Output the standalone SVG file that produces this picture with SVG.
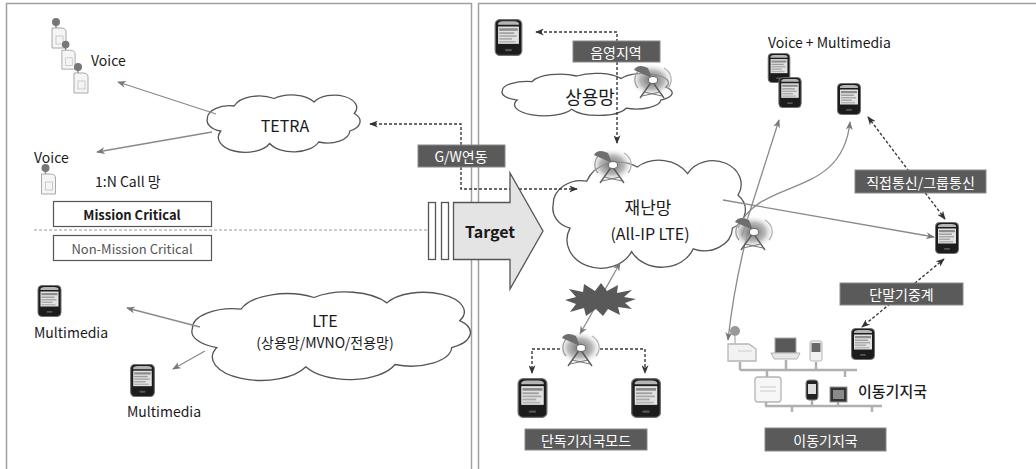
<svg xmlns="http://www.w3.org/2000/svg" width="1036" height="469" viewBox="0 0 1036 469">
  <style>
    .t { font-family: "Noto Sans CJK KR", "Noto Sans", sans-serif; fill: #1a1a1a; font-weight: 400; }
    .lbl { font-family: "Noto Sans CJK KR", "Noto Sans", sans-serif; fill: #ffffff; font-size: 14px; font-weight: 400; text-anchor: middle; dominant-baseline: central; }
    .tagbox { fill: #5a5a5a; stroke: #8a8a8a; stroke-width: 1; }
    .panel { fill: #ffffff; stroke: #a0a0a0; stroke-width: 1.5; }
    .cloud { fill: #ffffff; stroke: #555555; stroke-width: 1.3; vector-effect: non-scaling-stroke; }
    .ln { stroke: #8a8a8a; stroke-width: 1.3; fill: none; }
    .dl { stroke: #3a3a3a; stroke-width: 1.4; stroke-dasharray: 3 2; fill: none; }
    .bus { stroke: #b0b0b0; stroke-width: 2.5; fill: none; }
  </style>
  <defs>
    <marker id="ah" viewBox="0 0 10 8" refX="9" refY="4" markerWidth="9" markerHeight="7" markerUnits="userSpaceOnUse" orient="auto-start-reverse">
      <path d="M0,0 L10,4 L0,8 L3,4 z" fill="#777777"/>
    </marker>
    <marker id="ahd" viewBox="0 0 10 8" refX="9" refY="4" markerWidth="9" markerHeight="7" markerUnits="userSpaceOnUse" orient="auto-start-reverse">
      <path d="M0,0 L10,4 L0,8 L3,4 z" fill="#333333"/>
    </marker>
    <radialGradient id="wave" cx="0.5" cy="0.5" r="0.5">
      <stop offset="0" stop-color="#6a6a6a"/>
      <stop offset="0.55" stop-color="#a8a8a8" stop-opacity="0.8"/>
      <stop offset="1" stop-color="#ffffff" stop-opacity="0"/>
    </radialGradient>
    <path id="cloudShape" class="cloud" d="M -70,20 A 22 22 0 0 1 -85 -5 A 25 25 0 0 1 -55 -30 A 30 30 0 0 1 -10 -45 A 30 30 0 0 1 35 -38 A 25 25 0 0 1 80 -15 A 22 22 0 0 1 75 20 A 25 25 0 0 1 40 42 A 30 30 0 0 1 -15 45 A 25 25 0 0 1 -70 20 Z"/>
    <!-- smartphone -->
    <symbol id="phone" viewBox="0 0 24 32">
      <rect x="0.5" y="0.5" width="23" height="31" rx="4" fill="#1c1c1c" stroke="#707070"/>
      <path d="M3,5 L21,5 L21,3.5 Q20,2 17,2 L7,2 Q4,2 3,3.5 Z" fill="#b5b5b5"/>
      <rect x="3" y="6.5" width="18" height="15" fill="#e2e2e2"/>
      <rect x="4" y="8" width="16" height="2.2" fill="#8c8c8c"/>
      <rect x="4" y="11.5" width="13" height="1.4" fill="#9c9c9c"/>
      <rect x="4" y="14" width="15" height="1.4" fill="#a8a8a8"/>
      <rect x="4" y="16.5" width="11" height="1.4" fill="#a8a8a8"/>
      <rect x="4" y="19" width="14" height="1.4" fill="#b5b5b5"/>
      <rect x="9" y="26" width="6" height="1.8" rx="0.9" fill="#555555"/>
    </symbol>
    <!-- TETRA handset -->
    <symbol id="handset" viewBox="0 0 18 32">
      <line x1="6" y1="6" x2="6" y2="12" stroke="#888" stroke-width="1.5"/>
      <circle cx="6" cy="5" r="4" fill="#777777"/>
      <path d="M2,11 H11 Q16,11 16,15 V31 H2 Z" fill="#f5f5f5" stroke="#a8a8a8" stroke-width="1"/>
      <rect x="6" y="19" width="7" height="8" fill="none" stroke="#c0c0c0" stroke-width="0.8"/>
    </symbol>
    <!-- base station tower -->
    <symbol id="tower" viewBox="0 0 46 38">
      <ellipse cx="24" cy="18" rx="22" ry="17" fill="url(#wave)"/>
      <path d="M10,26 A16 14 0 0 1 14,6" fill="none" stroke="#9a9a9a" stroke-width="1.2"/>
      <path d="M36,6 A16 14 0 0 1 40,26" fill="none" stroke="#b0b0b0" stroke-width="1.2"/>
      <path d="M6,8 Q10,1 20,6 L24,16 Z" fill="#6e6e6e"/>
      <line x1="24" y1="19" x2="12" y2="36" stroke="#5a5a5a" stroke-width="1.4"/>
      <line x1="24" y1="19" x2="36" y2="36" stroke="#5a5a5a" stroke-width="1.4"/>
      <line x1="16" y1="30" x2="34" y2="34" stroke="#777" stroke-width="1"/>
      <line x1="32" y1="30" x2="14" y2="34" stroke="#777" stroke-width="1"/>
      <ellipse cx="25" cy="18" rx="4.5" ry="3.5" fill="#ffffff" stroke="#6a6a6a" stroke-width="1"/>
    </symbol>
  </defs>

  <rect width="1036" height="469" fill="#ffffff"/>

  <!-- panels -->
  <rect class="panel" x="6.5" y="3.5" width="465" height="480"/>
  <rect class="panel" x="478.5" y="3.5" width="570" height="480"/>

  <!-- clouds -->
  <g id="cloud-tetra">
    <use href="#cloudShape" transform="translate(283.5,123.5) scale(0.89,0.5) translate(-0.5,-5)"/>
    <text class="t" x="285" y="125" font-size="16" text-anchor="middle" dominant-baseline="central">TETRA</text>
  </g>
  <g id="cloud-lte">
    <use href="#cloudShape" transform="translate(331,336) scale(1.62,0.77) translate(-0.5,-5)"/>
    <text class="t" x="325" y="320" font-size="16" text-anchor="middle" dominant-baseline="central">LTE</text>
    <text class="t" x="325" y="342" font-size="14" text-anchor="middle" dominant-baseline="central">(상용망/MVNO/전용망)</text>
  </g>
  <g id="cloud-commercial">
    <use href="#cloudShape" transform="translate(587,94.5) scale(0.99,0.37) translate(-0.5,-5)"/>
    <text class="t" x="590" y="96" font-size="18" text-anchor="middle" dominant-baseline="central">상용망</text>
  </g>
  <g id="cloud-disaster">
    <use href="#cloudShape" transform="translate(649,214) scale(1.12,0.94) translate(-0.5,-5)"/>
    <text class="t" x="648" y="206" font-size="17" text-anchor="middle" dominant-baseline="central">재난망</text>
    <text class="t" x="650" y="233" font-size="16" text-anchor="middle" dominant-baseline="central">(All-IP LTE)</text>
  </g>

  <!-- connectors -->
  <g id="connectors">
    <line class="ln" x1="216" y1="114" x2="118" y2="82" marker-end="url(#ah)"/>
    <line class="ln" x1="212" y1="132" x2="97" y2="152" marker-end="url(#ah)"/>
    <line class="ln" x1="200" y1="327" x2="127" y2="308" marker-end="url(#ah)"/>
    <line class="ln" x1="205" y1="351" x2="173" y2="369" marker-end="url(#ah)"/>
    <line x1="34" y1="230" x2="428" y2="230" stroke="#9a9a9a" stroke-width="1.2" stroke-dasharray="3 2"/>
    <path class="dl" d="M577,189 H461 V124 H370" marker-start="url(#ahd)" marker-end="url(#ahd)"/>
    <path class="dl" d="M617,62 V32 H536" marker-end="url(#ahd)"/>
    <path class="dl" d="M617,62 V143" marker-end="url(#ahd)"/>
    <line class="ln" x1="742" y1="236" x2="779" y2="120" marker-end="url(#ah)"/>
    <path class="ln" d="M738,228 C760,176 842,200 850,122" marker-end="url(#ah)"/>
    <line class="ln" x1="723" y1="200" x2="934" y2="237" marker-end="url(#ah)"/>
    <path class="ln" d="M748,232 Q734,285 728,340" marker-end="url(#ah)"/>
    <line class="ln" x1="620" y1="263" x2="580" y2="334" marker-start="url(#ah)" marker-end="url(#ah)"/>
    <path class="dl" d="M560,349 H532 V373" marker-end="url(#ahd)"/>
    <path class="dl" d="M600,349 H645 V373" marker-end="url(#ahd)"/>
    <line class="dl" x1="868" y1="117" x2="945" y2="219" marker-start="url(#ahd)" marker-end="url(#ahd)"/>
    <line class="dl" x1="944" y1="259" x2="862" y2="327" marker-start="url(#ahd)" marker-end="url(#ahd)"/>
  </g>

  <!-- left: TETRA voice terminals -->
  <g id="voice-group">
    <use href="#handset" x="50" y="16" width="18" height="34"/>
    <use href="#handset" x="60" y="38" width="17" height="34"/>
    <use href="#handset" x="72" y="60" width="18" height="36"/>
    <text class="t" x="91" y="60" font-size="14" dominant-baseline="central">Voice</text>
  </g>
  <g id="voice-single">
    <text class="t" x="34" y="157" font-size="14" dominant-baseline="central">Voice</text>
    <use href="#handset" x="39" y="163" width="19" height="32"/>
    <text class="t" x="95" y="181" font-size="14" dominant-baseline="central">1:N Call 망</text>
  </g>
  <g id="mission-critical">
    <rect x="53.5" y="201.5" width="158" height="25" fill="#ffffff" stroke="#555555" stroke-width="1.2"/>
    <text class="t" x="132" y="214" font-size="13" text-anchor="middle" dominant-baseline="central" style="font-weight:bold">Mission Critical</text>
  </g>
  <g id="non-mission-critical">
    <rect x="53.5" y="235.5" width="158" height="25" fill="#ffffff" stroke="#555555" stroke-width="1.2"/>
    <text class="t" x="132" y="248" font-size="13" text-anchor="middle" dominant-baseline="central" style="fill:#555555">Non-Mission Critical</text>
  </g>
  <g id="multimedia-1">
    <use href="#phone" x="37" y="285" width="25" height="32"/>
    <text class="t" x="34" y="332" font-size="14" dominant-baseline="central">Multimedia</text>
  </g>
  <g id="multimedia-2">
    <use href="#phone" x="130" y="364" width="25" height="33"/>
    <text class="t" x="127" y="411" font-size="14" dominant-baseline="central">Multimedia</text>
  </g>

  <!-- transition arrow -->
  <g id="gw-link">
    <rect class="tagbox" x="418" y="145" width="87" height="22"/>
    <text class="lbl" x="461" y="156">G/W연동</text>
  </g>
  <g id="target">
    <rect x="428.5" y="202.5" width="7" height="57" fill="#ffffff" stroke="#555555" stroke-width="1.3"/>
    <rect x="441.5" y="202.5" width="7" height="57" fill="#ffffff" stroke="#555555" stroke-width="1.3"/>
    <path d="M453.5,202.5 H510 V173 L543,231 L510,289 V259.5 H453.5 Z" fill="#e4e4e4" stroke="#555555" stroke-width="1.3"/>
    <text class="t" x="490" y="231" font-size="16" text-anchor="middle" dominant-baseline="central" style="font-weight:bold">Target</text>
  </g>

  <!-- right: disaster network -->
  <g id="shadow-area">
    <use href="#phone" x="492" y="19" width="33" height="37"/>
    <rect class="tagbox" x="573" y="41" width="87" height="21"/>
    <text class="lbl" x="616" y="51.5">음영지역</text>
  </g>
  <g id="tower-commercial"><use href="#tower" x="628" y="62" width="46" height="38"/></g>
  <g id="tower-core"><use href="#tower" x="588" y="147" width="46" height="38"/></g>
  <g id="tower-edge"><use href="#tower" x="728" y="214" width="48" height="38"/></g>

  <g id="voice-multimedia">
    <text class="t" x="768" y="42" font-size="14" dominant-baseline="central">Voice + Multimedia</text>
    <use href="#phone" x="767" y="53" width="24" height="30"/>
    <use href="#phone" x="778" y="77" width="24" height="31"/>
    <use href="#phone" x="837" y="83" width="24" height="32"/>
  </g>
  <g id="direct-comm">
    <rect class="tagbox" x="855" y="170" width="131" height="23"/>
    <text class="lbl" x="920.5" y="181.5">직접통신/그룹통신</text>
  </g>
  <g id="relay-terminal">
    <use href="#phone" x="935" y="222" width="24" height="32"/>
  </g>
  <g id="relay">
    <rect class="tagbox" x="840" y="283" width="123" height="22"/>
    <text class="lbl" x="901.5" y="294">단말기중계</text>
  </g>
  <g id="relay-phone">
    <use href="#phone" x="851" y="328" width="24" height="32"/>
  </g>

  <!-- standalone base station mode -->
  <g id="link-failure">
    <polygon points="636,299 625,303 632,309 618,307 620,315 608,309 603,316 596,309 586,316 584,308 570,312 576,304 565,300 576,297 569,289 583,292 584,284 595,291 601,283 607,291 618,285 617,293 632,290 624,297" fill="#595959"/>
  </g>
  <g id="tower-standalone"><use href="#tower" x="556" y="330" width="46" height="38"/></g>
  <g id="standalone-phones">
    <use href="#phone" x="517" y="378" width="31" height="40"/>
    <use href="#phone" x="631" y="378" width="30" height="40"/>
  </g>
  <g id="standalone-mode">
    <rect class="tagbox" x="525" y="429" width="122" height="21"/>
    <text class="lbl" x="586" y="439.5">단독기지국모드</text>
  </g>

  <!-- mobile base station -->
  <g id="mobile-station">
    <path class="bus" d="M740,370 H857 M740,362 V370 M786,360 V370 M816,362 V370 M845,370 V377 M767,370 V378"/>
    <path class="bus" d="M765,406 H882 M766,401 V406 M812,400 V406 M838,402 V406 M792,406 V412 M872,406 V412"/>
    <!-- vehicle -->
    <circle cx="735" cy="331" r="5" fill="#999999"/>
    <line x1="735" y1="335" x2="735" y2="345" stroke="#aaa" stroke-width="1.2"/>
    <path d="M728,344 H749 L756,349 V361 H728 Z" fill="#f2f2f2" stroke="#b5b5b5" stroke-width="1.3"/>
    <line x1="738" y1="351" x2="752" y2="351" stroke="#ccc"/>
    <!-- laptop -->
    <rect x="775" y="338" width="21" height="15" fill="#595959" stroke="#aaa"/>
    <path d="M771,353 H800 L797,359 H774 Z" fill="#e6e6e6" stroke="#b5b5b5"/>
    <!-- handheld -->
    <rect x="810" y="341" width="12" height="20" rx="2" fill="#f2f2f2" stroke="#b5b5b5"/>
    <rect x="811.5" y="343" width="9" height="9" fill="#6a6a6a"/>
    <!-- server -->
    <rect x="755" y="377" width="26" height="25" rx="3" fill="#f7f7f7" stroke="#b5b5b5" stroke-width="1.3"/>
    <line x1="760" y1="387" x2="776" y2="387" stroke="#ccc"/>
    <line x1="760" y1="391" x2="776" y2="391" stroke="#ccc"/>
    <!-- small phone -->
    <rect x="806" y="380" width="12" height="20" rx="3" fill="#222222" stroke="#888"/>
    <rect x="808" y="384" width="8" height="10" fill="#ddd"/>
    <!-- monitor -->
    <rect x="830" y="387" width="17" height="15" fill="#333333" stroke="#999"/>
    <rect x="833" y="390" width="11" height="9" fill="#8a8a8a"/>
    <text class="t" x="858" y="390" font-size="15" dominant-baseline="central" style="font-weight:500">이동기지국</text>
  </g>
  <g id="mobile-station-label">
    <rect class="tagbox" x="765" y="428" width="121" height="23"/>
    <text class="lbl" x="825.5" y="439.5">이동기지국</text>
  </g>
</svg>
